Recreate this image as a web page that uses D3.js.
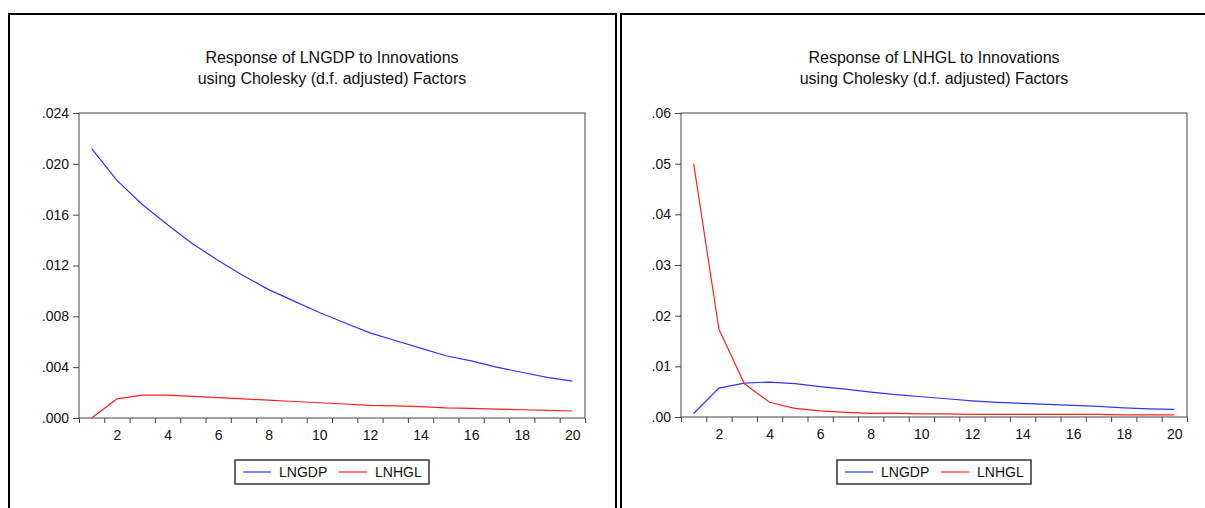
<!DOCTYPE html>
<meta charset="utf-8">
<head>
    <title>Impulse responses</title>
    <script src="https://d3js.org/d3.v7.min.js"></script>
</head>

<style>
    body { margin: 0; background: #fff; }
    svg { display: block; font-family: "Liberation Sans", Arial, sans-serif; }
    .axis path, .axis line { stroke: #444; }
    .axis text { fill: #111; font-size: 14px; }
</style>

<svg width="1205" height="508"></svg>

<script>
    var periods = d3.range(1, 21);
    var seriesNames = ["LNGDP", "LNHGL"];
    var seriesColors = ["#3333ff", "#ff2222"];

    // Response of LNGDP
    var gdpToGdp = [0.0212, 0.0187, 0.0168, 0.0152, 0.0137, 0.0124, 0.0112, 0.0101, 0.0092, 0.0083,
                    0.0075, 0.0067, 0.0061, 0.0055, 0.0049, 0.0045, 0.0040, 0.0036, 0.0032, 0.0029];
    var gdpToHgl = [0.0000, 0.0015, 0.0018, 0.0018, 0.0017, 0.0016, 0.0015, 0.0014, 0.0013, 0.0012,
                    0.0011, 0.0010, 0.00095, 0.0009, 0.0008, 0.00075, 0.0007, 0.00065, 0.0006, 0.00055];

    // Response of LNHGL
    var hglToGdp = [0.0007, 0.0057, 0.0067, 0.0069, 0.0066, 0.0060, 0.0055, 0.0049, 0.0044, 0.0040,
                    0.0036, 0.0032, 0.0029, 0.0027, 0.0025, 0.0023, 0.0021, 0.0018, 0.0016, 0.0015];
    var hglToHgl = [0.0500, 0.0173, 0.0066, 0.0029, 0.0017, 0.0012, 0.0009, 0.0007, 0.0007, 0.0006,
                    0.0006, 0.0005, 0.0005, 0.0005, 0.0005, 0.0005, 0.0005, 0.0004, 0.0004, 0.0004];

    var leftTicks = [0, 0.004, 0.008, 0.012, 0.016, 0.020, 0.024];
    var rightTicks = [0, 0.01, 0.02, 0.03, 0.04, 0.05, 0.06];
    var xLabels = [2, 4, 6, 8, 10, 12, 14, 16, 18, 20];

    var svg = d3.select('svg');

    // panel frames (the right one runs off the picture)
    svg.append('rect').attr('x', 9).attr('y', 14).attr('width', 607).attr('height', 520)
        .attr('fill', 'none').attr('stroke', '#000').attr('stroke-width', 2);
    svg.append('rect').attr('x', 621).attr('y', 14).attr('width', 620).attr('height', 520)
        .attr('fill', 'none').attr('stroke', '#000').attr('stroke-width', 2);

    function drawPanel(opt) {
        var g = svg.append('g');
        var x = d3.scaleLinear().domain([0.5, 20.5]).range([opt.x0, opt.x1]);
        var y = d3.scaleLinear().domain([0, opt.ymax]).range([opt.y1, opt.y0]);
        var cx = (opt.x0 + opt.x1) / 2;

        // title
        g.append('text').attr('x', cx).attr('y', 63).attr('text-anchor', 'middle')
            .attr('font-size', 16).attr('fill', '#111').text(opt.title);
        g.append('text').attr('x', cx).attr('y', 84).attr('text-anchor', 'middle')
            .attr('font-size', 16).attr('fill', '#111').text('using Cholesky (d.f. adjusted) Factors');

        // frame
        g.append('rect').attr('x', opt.x0).attr('y', opt.y0)
            .attr('width', opt.x1 - opt.x0).attr('height', opt.y1 - opt.y0)
            .attr('fill', 'none').attr('stroke', '#444');

        // y axis
        g.append('g').attr('class', 'axis').attr('transform', 'translate(' + opt.x0 + ',0)')
            .call(d3.axisLeft(y).tickValues(opt.ticks).tickSize(6).tickPadding(4)
                .tickFormat(function (d) { return d3.format(opt.fmt)(d).replace(/^0/, ''); }))
            .call(function (a) { a.select('.domain').remove(); });

        // x axis: ticks on band edges, labels on even periods
        g.append('g').attr('class', 'axis').attr('transform', 'translate(0,' + opt.y1 + ')')
            .call(d3.axisBottom(x).tickValues(d3.range(0.5, 21, 1)).tickSize(5).tickFormat(''))
            .call(function (a) { a.select('.domain').remove(); });
        g.append('g').attr('class', 'axis').attr('transform', 'translate(0,' + opt.y1 + ')')
            .call(d3.axisBottom(x).tickValues(xLabels).tickSize(0).tickPadding(12))
            .call(function (a) { a.select('.domain').remove(); });

        // lines
        var line = d3.line().x(function (d, i) { return x(periods[i]); }).y(function (d) { return y(d); });
        opt.series.forEach(function (s, k) {
            g.append('path').datum(s).attr('d', line)
                .attr('fill', 'none').attr('stroke', seriesColors[k]).attr('stroke-width', 1.2);
        });

        // legend
        var lg = g.append('g').attr('transform', 'translate(' + (cx - 97) + ',460)');
        lg.append('rect').attr('width', 194).attr('height', 24)
            .attr('fill', '#fff').attr('stroke', '#333').attr('stroke-width', 1.5);
        seriesNames.forEach(function (n, k) {
            var ox = 8 + k * 96;
            lg.append('line').attr('x1', ox).attr('x2', ox + 28).attr('y1', 12).attr('y2', 12)
                .attr('stroke', seriesColors[k]).attr('stroke-width', 1.2);
            lg.append('text').attr('x', ox + 36).attr('y', 17).attr('font-size', 14)
                .attr('fill', '#111').text(n);
        });
    }

    drawPanel({
        title: 'Response of LNGDP to Innovations',
        x0: 79, x1: 585, y0: 113, y1: 418,
        ymax: 0.024, ticks: leftTicks, fmt: '.3f',
        series: [gdpToGdp, gdpToHgl]
    });
    drawPanel({
        title: 'Response of LNHGL to Innovations',
        x0: 681, x1: 1187, y0: 113, y1: 417,
        ymax: 0.06, ticks: rightTicks, fmt: '.2f',
        series: [hglToGdp, hglToHgl]
    });
</script>
